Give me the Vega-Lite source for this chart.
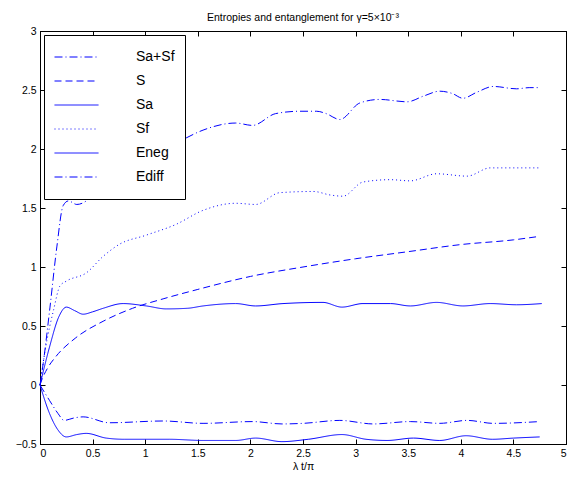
{
  "$schema": "https://vega.github.io/schema/vega-lite/v6.json",
  "width": 526,
  "height": 413,
  "autosize": {"type": "none"},
  "padding": {"left": 40, "top": 31, "right": 10, "bottom": 33},
  "background": "white",
  "config": {
    "font": "Liberation Sans",
    "view": {"stroke": "black", "strokeWidth": 1},
    "axis": {"grid": false, "domainColor": "black", "tickColor": "black", "labelColor": "black", "titleColor": "black", "labelFont": "Liberation Sans", "labelFontSize": 10.5, "titleFont": "Liberation Sans", "titleFontSize": 10.5, "titleFontWeight": "normal", "tickSize": -5, "labelPadding": 9}
  },
  "title": {"text": "Entropies and entanglement for γ=5×10⁻³", "fontSize": 10.5, "fontWeight": "normal", "font": "Liberation Sans", "offset": 3, "anchor": "middle", "color": "black"},
  "data": {"values": [
    {"s": "Sa+Sf", "x": 0, "y": 0}, {"s": "Sa+Sf", "x": 0.03, "y": 0.18}, {"s": "Sa+Sf", "x": 0.095, "y": 0.66}, {"s": "Sa+Sf", "x": 0.16, "y": 1.17}, {"s": "Sa+Sf", "x": 0.22, "y": 1.52}, {"s": "Sa+Sf", "x": 0.27, "y": 1.56}, {"s": "Sa+Sf", "x": 0.35, "y": 1.53}, {"s": "Sa+Sf", "x": 0.44, "y": 1.56}, {"s": "Sa+Sf", "x": 0.6, "y": 1.74}, {"s": "Sa+Sf", "x": 0.75, "y": 1.88}, {"s": "Sa+Sf", "x": 1.0, "y": 1.94}, {"s": "Sa+Sf", "x": 1.2, "y": 2.0}, {"s": "Sa+Sf", "x": 1.36, "y": 2.08}, {"s": "Sa+Sf", "x": 1.55, "y": 2.16}, {"s": "Sa+Sf", "x": 1.86, "y": 2.22}, {"s": "Sa+Sf", "x": 2.02, "y": 2.2}, {"s": "Sa+Sf", "x": 2.24, "y": 2.3}, {"s": "Sa+Sf", "x": 2.47, "y": 2.32}, {"s": "Sa+Sf", "x": 2.63, "y": 2.32}, {"s": "Sa+Sf", "x": 2.72, "y": 2.3}, {"s": "Sa+Sf", "x": 2.85, "y": 2.25}, {"s": "Sa+Sf", "x": 3.04, "y": 2.39}, {"s": "Sa+Sf", "x": 3.23, "y": 2.42}, {"s": "Sa+Sf", "x": 3.49, "y": 2.4}, {"s": "Sa+Sf", "x": 3.65, "y": 2.45}, {"s": "Sa+Sf", "x": 3.8, "y": 2.49}, {"s": "Sa+Sf", "x": 3.92, "y": 2.47}, {"s": "Sa+Sf", "x": 4.02, "y": 2.43}, {"s": "Sa+Sf", "x": 4.15, "y": 2.48}, {"s": "Sa+Sf", "x": 4.31, "y": 2.53}, {"s": "Sa+Sf", "x": 4.53, "y": 2.51}, {"s": "Sa+Sf", "x": 4.65, "y": 2.52}, {"s": "Sa+Sf", "x": 4.75, "y": 2.52},
    {"s": "S", "x": 0, "y": 0}, {"s": "S", "x": 0.02, "y": 0.05}, {"s": "S", "x": 0.07, "y": 0.14}, {"s": "S", "x": 0.15, "y": 0.24}, {"s": "S", "x": 0.34, "y": 0.4}, {"s": "S", "x": 0.6, "y": 0.54}, {"s": "S", "x": 0.88, "y": 0.65}, {"s": "S", "x": 1.17, "y": 0.73}, {"s": "S", "x": 1.5, "y": 0.81}, {"s": "S", "x": 2.0, "y": 0.92}, {"s": "S", "x": 2.5, "y": 1.0}, {"s": "S", "x": 3.0, "y": 1.07}, {"s": "S", "x": 3.5, "y": 1.13}, {"s": "S", "x": 4.0, "y": 1.19}, {"s": "S", "x": 4.5, "y": 1.23}, {"s": "S", "x": 4.75, "y": 1.26},
    {"s": "Sa", "x": 0, "y": 0}, {"s": "Sa", "x": 0.09, "y": 0.32}, {"s": "Sa", "x": 0.18, "y": 0.58}, {"s": "Sa", "x": 0.25, "y": 0.66}, {"s": "Sa", "x": 0.33, "y": 0.63}, {"s": "Sa", "x": 0.41, "y": 0.6}, {"s": "Sa", "x": 0.5, "y": 0.62}, {"s": "Sa", "x": 0.6, "y": 0.65}, {"s": "Sa", "x": 0.79, "y": 0.69}, {"s": "Sa", "x": 1.01, "y": 0.67}, {"s": "Sa", "x": 1.2, "y": 0.645}, {"s": "Sa", "x": 1.4, "y": 0.65}, {"s": "Sa", "x": 1.55, "y": 0.67}, {"s": "Sa", "x": 1.86, "y": 0.69}, {"s": "Sa", "x": 2.05, "y": 0.67}, {"s": "Sa", "x": 2.31, "y": 0.69}, {"s": "Sa", "x": 2.69, "y": 0.7}, {"s": "Sa", "x": 2.87, "y": 0.66}, {"s": "Sa", "x": 3.07, "y": 0.69}, {"s": "Sa", "x": 3.33, "y": 0.69}, {"s": "Sa", "x": 3.52, "y": 0.67}, {"s": "Sa", "x": 3.77, "y": 0.7}, {"s": "Sa", "x": 4.02, "y": 0.67}, {"s": "Sa", "x": 4.28, "y": 0.69}, {"s": "Sa", "x": 4.53, "y": 0.68}, {"s": "Sa", "x": 4.77, "y": 0.69},
    {"s": "Sf", "x": 0, "y": 0}, {"s": "Sf", "x": 0.05, "y": 0.3}, {"s": "Sf", "x": 0.13, "y": 0.64}, {"s": "Sf", "x": 0.19, "y": 0.84}, {"s": "Sf", "x": 0.25, "y": 0.88}, {"s": "Sf", "x": 0.44, "y": 0.95}, {"s": "Sf", "x": 0.6, "y": 1.09}, {"s": "Sf", "x": 0.75, "y": 1.19}, {"s": "Sf", "x": 1.01, "y": 1.27}, {"s": "Sf", "x": 1.29, "y": 1.36}, {"s": "Sf", "x": 1.55, "y": 1.48}, {"s": "Sf", "x": 1.86, "y": 1.54}, {"s": "Sf", "x": 2.05, "y": 1.53}, {"s": "Sf", "x": 2.28, "y": 1.63}, {"s": "Sf", "x": 2.6, "y": 1.64}, {"s": "Sf", "x": 2.76, "y": 1.61}, {"s": "Sf", "x": 2.88, "y": 1.6}, {"s": "Sf", "x": 3.07, "y": 1.72}, {"s": "Sf", "x": 3.33, "y": 1.74}, {"s": "Sf", "x": 3.52, "y": 1.73}, {"s": "Sf", "x": 3.77, "y": 1.79}, {"s": "Sf", "x": 4.06, "y": 1.77}, {"s": "Sf", "x": 4.28, "y": 1.84}, {"s": "Sf", "x": 4.75, "y": 1.84},
    {"s": "Eneg", "x": 0, "y": 0}, {"s": "Eneg", "x": 0.09, "y": -0.24}, {"s": "Eneg", "x": 0.17, "y": -0.38}, {"s": "Eneg", "x": 0.25, "y": -0.44}, {"s": "Eneg", "x": 0.35, "y": -0.42}, {"s": "Eneg", "x": 0.44, "y": -0.41}, {"s": "Eneg", "x": 0.63, "y": -0.45}, {"s": "Eneg", "x": 0.8, "y": -0.46}, {"s": "Eneg", "x": 1.23, "y": -0.46}, {"s": "Eneg", "x": 1.55, "y": -0.47}, {"s": "Eneg", "x": 1.86, "y": -0.47}, {"s": "Eneg", "x": 2.05, "y": -0.45}, {"s": "Eneg", "x": 2.3, "y": -0.48}, {"s": "Eneg", "x": 2.55, "y": -0.46}, {"s": "Eneg", "x": 2.87, "y": -0.42}, {"s": "Eneg", "x": 3.1, "y": -0.46}, {"s": "Eneg", "x": 3.3, "y": -0.47}, {"s": "Eneg", "x": 3.55, "y": -0.45}, {"s": "Eneg", "x": 3.8, "y": -0.47}, {"s": "Eneg", "x": 4.05, "y": -0.43}, {"s": "Eneg", "x": 4.3, "y": -0.46}, {"s": "Eneg", "x": 4.5, "y": -0.45}, {"s": "Eneg", "x": 4.75, "y": -0.44},
    {"s": "Ediff", "x": 0, "y": 0}, {"s": "Ediff", "x": 0.09, "y": -0.13}, {"s": "Ediff", "x": 0.17, "y": -0.24}, {"s": "Ediff", "x": 0.23, "y": -0.3}, {"s": "Ediff", "x": 0.32, "y": -0.28}, {"s": "Ediff", "x": 0.41, "y": -0.27}, {"s": "Ediff", "x": 0.66, "y": -0.32}, {"s": "Ediff", "x": 1.17, "y": -0.305}, {"s": "Ediff", "x": 1.55, "y": -0.325}, {"s": "Ediff", "x": 2.02, "y": -0.31}, {"s": "Ediff", "x": 2.3, "y": -0.33}, {"s": "Ediff", "x": 2.5, "y": -0.325}, {"s": "Ediff", "x": 2.85, "y": -0.3}, {"s": "Ediff", "x": 3.17, "y": -0.33}, {"s": "Ediff", "x": 3.52, "y": -0.31}, {"s": "Ediff", "x": 3.8, "y": -0.325}, {"s": "Ediff", "x": 4.06, "y": -0.3}, {"s": "Ediff", "x": 4.31, "y": -0.325}, {"s": "Ediff", "x": 4.75, "y": -0.31}
  ]},
  "layer": [
    {
      "mark": {"type": "line", "color": "#0000ff", "strokeWidth": 1, "interpolate": "monotone"},
      "encoding": {
        "x": {"field": "x", "type": "quantitative", "scale": {"domain": [0, 5], "nice": false}, "axis": {"title": "λ t/π", "values": [0, 0.5, 1, 1.5, 2, 2.5, 3, 3.5, 4, 4.5, 5], "format": "~g", "titlePadding": 3}},
        "y": {"field": "y", "type": "quantitative", "scale": {"domain": [-0.5, 3], "nice": false}, "axis": {"title": null, "values": [-0.5, 0, 0.5, 1, 1.5, 2, 2.5, 3], "format": "~g"}},
        "strokeDash": {"field": "s", "type": "nominal", "scale": {"domain": ["Sa+Sf", "S", "Sa", "Sf", "Eneg", "Ediff"], "range": [[8, 3, 1, 3], [7, 4], [1, 0], [1, 3], [1, 0], [8, 3, 1, 3]]},
          "legend": {"title": null, "orient": "none", "legendX": 4, "legendY": 4, "symbolType": "stroke", "symbolSize": 1936, "symbolStrokeWidth": 1, "symbolStrokeColor": "#0000ff", "clipHeight": 24, "rowPadding": 0, "labelFontSize": 14, "labelFont": "Liberation Sans", "labelColor": "black", "labelOffset": 37, "padding": 10, "strokeColor": "black", "fillColor": "white"}}
      }
    },
    {
      "mark": {"type": "line", "opacity": 0, "interpolate": "monotone"},
      "encoding": {
        "x": {"field": "x", "type": "quantitative", "axis": {"orient": "top", "labels": false, "title": null, "values": [0, 0.5, 1, 1.5, 2, 2.5, 3, 3.5, 4, 4.5, 5]}},
        "y": {"field": "y", "type": "quantitative", "axis": {"orient": "right", "labels": false, "title": null, "values": [-0.5, 0, 0.5, 1, 1.5, 2, 2.5, 3]}},
        "detail": {"field": "s"}
      }
    }
  ],
  "resolve": {"axis": {"x": "independent", "y": "independent"}}
}
